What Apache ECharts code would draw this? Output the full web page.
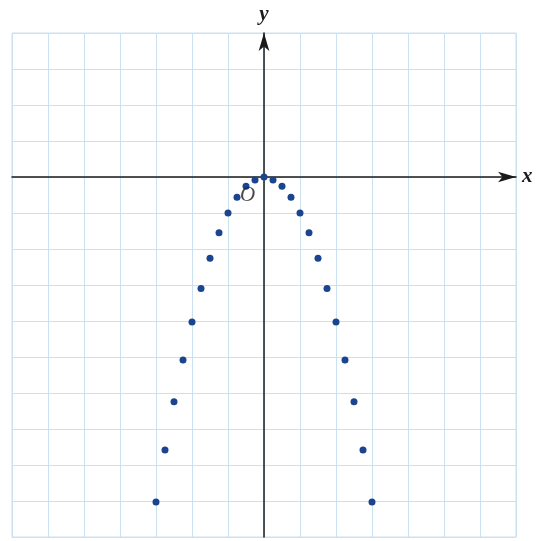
<!DOCTYPE html>
<html>
<head>
<meta charset="utf-8">
<script src="https://cdn.jsdelivr.net/npm/echarts@6/dist/echarts.min.js"></script>
<style>
  html, body { margin: 0; padding: 0; background: #fff; }
  #parabola { width: 537px; height: 541px; }
</style>
</head>
<body>
<div id="parabola"></div>
<script>
// 点的坐标
const xValues = [-3, -2.75, -2.5, -2.25, -2, -1.75, -1.5, -1.25, -1, -0.75, -0.5, -0.25, 0,
  0.25, 0.5, 0.75, 1, 1.25, 1.5, 1.75, 2, 2.25, 2.5, 2.75, 3]
const yValues = [-9.03, -7.58, -6.24, -5.08, -4.03, -3.1, -2.26, -1.55, -1.0, -0.56, -0.26, -0.08, 0,
  -0.08, -0.26, -0.56, -1.0, -1.55, -2.26, -3.1, -4.03, -5.08, -6.24, -7.58, -9.03]
const xRange = [-7, 7]
const yRange = [-10, 4]
const originLabel = 'O'

const chart = echarts.init(document.getElementById('parabola'))
const points = xValues.map((x, i) => [x, yValues[i]])
const gridColor = '#cbe1f0'
const axisFont = {
  fontFamily: 'Liberation Serif',
  fontStyle: 'italic',
  fontWeight: 'bold',
  fontSize: 21,
  color: '#1a1a1a'
}

const option = {
  animation: false,
  backgroundColor: '#fff',
  grid: {
    left: 12,
    right: 21,
    top: 33,
    bottom: 4,
    show: true,
    borderColor: gridColor,
    borderWidth: 1
  },
  xAxis: {
    type: 'value',
    min: xRange[0],
    max: xRange[1],
    interval: 1,
    name: 'x',
    nameLocation: 'end',
    nameGap: 6,
    nameTextStyle: axisFont,
    axisLine: {
      onZero: true,
      symbol: ['none', 'arrow'],
      symbolSize: [8, 18],
      lineStyle: { color: '#1a1a1a', width: 1.5 }
    },
    axisTick: { show: false },
    axisLabel: { show: false },
    splitLine: { show: true, lineStyle: { color: gridColor, width: 1 } }
  },
  yAxis: {
    type: 'value',
    min: yRange[0],
    max: yRange[1],
    interval: 1,
    name: 'y',
    nameLocation: 'end',
    nameGap: 8,
    nameTextStyle: axisFont,
    axisLine: {
      onZero: true,
      symbol: ['none', 'arrow'],
      symbolSize: [8, 18],
      lineStyle: { color: '#1a1a1a', width: 1.5 }
    },
    axisTick: { show: false },
    axisLabel: { show: false },
    splitLine: { show: true, lineStyle: { color: gridColor, width: 1 } }
  },
  series: [
    {
      type: 'scatter',
      data: points,
      symbolSize: 7,
      itemStyle: { color: '#1a448f', opacity: 1 },
      z: 3
    },
    {
      // 原点标记 O
      type: 'scatter',
      data: [[0, 0]],
      symbolSize: 0,
      silent: true,
      label: {
        show: true,
        formatter: originLabel,
        position: [-24, 8],
        fontFamily: 'Liberation Serif',
        fontStyle: 'italic',
        fontSize: 21,
        color: '#1a1a1a'
      },
      z: 4
    }
  ]
}

chart.setOption(option)
</script>
</body>
</html>
